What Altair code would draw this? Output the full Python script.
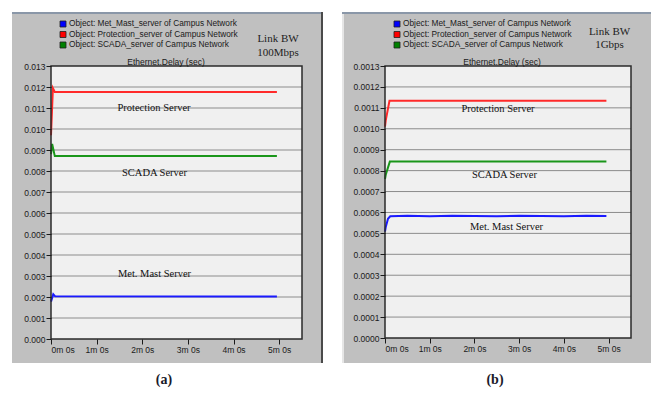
import altair as alt
import pandas as pd

# ---------------- data ----------------
series_names = [
    "Object: Met_Mast_server of Campus Network",
    "Object: Protection_server of Campus Network",
    "Object: SCADA_server of Campus Network",
]
series_keys = ["met", "prot", "scada"]
legend_colors = ["#0000ff", "#ff0000", "#008000"]
line_colors = ["#1a1aff", "#ff2a2a", "#1a961a"]

x_tick_values = [0, 60, 120, 180, 240, 300]
x_tick_labels = ["0m 0s", "1m 0s", "2m 0s", "3m 0s", "4m 0s", "5m 0s"]

# panel (a) Link BW 100Mbps
a_met_t = [0, 3, 5.5, 297]
a_met_v = [0.00178, 0.00213, 0.00203, 0.00202]
a_prot_t = [0, 2.5, 5, 297]
a_prot_v = [0.0097, 0.01194, 0.01176, 0.01176]
a_scada_t = [0, 1.5, 5, 297]
a_scada_v = [0.0088, 0.00929, 0.00871, 0.00871]
a_y_ticks = [0.000, 0.001, 0.002, 0.003, 0.004, 0.005, 0.006, 0.007,
             0.008, 0.009, 0.010, 0.011, 0.012, 0.013]

# panel (b) Link BW 1Gbps
b_met_t = [0, 1, 4, 7, 30, 60, 90, 120, 150, 180, 210, 240, 270, 297]
b_met_v = [0.000508, 0.00053, 0.00057, 0.000582, 0.000584, 0.000582, 0.000584,
           0.000583, 0.000582, 0.000584, 0.000583, 0.000582, 0.000584, 0.000583]
b_prot_t = [0, 1, 6, 297]
b_prot_v = [0.00101, 0.00104, 0.001134, 0.001134]
b_scada_t = [0, 1, 6.5, 297]
b_scada_v = [0.00076, 0.00078, 0.000843, 0.000843]
b_y_ticks = [0.0000, 0.0001, 0.0002, 0.0003, 0.0004, 0.0005, 0.0006, 0.0007,
             0.0008, 0.0009, 0.0010, 0.0011, 0.0012, 0.0013]

a_notes = ["Protection Server", "SCADA Server", "Met. Mast Server"]
b_notes = ["Protection Server", "SCADA Server", "Met. Mast Server"]
a_link = ["Link BW", "100Mbps"]
b_link = ["Link BW", "1Gbps"]
chart_title = "Ethernet.Delay (sec)"
captions = ["(a)", "(b)"]

SANS = "Liberation Sans"
SERIF = "Liberation Serif"
one = pd.DataFrame({"k": [0]})


def series_df(ts, vs):
    rows = []
    for key, t, v in zip(series_keys, ts, vs):
        for ti, vi in zip(t, v):
            rows.append({"series": key, "t": ti, "v": vi})
    return pd.DataFrame(rows)


def txt(text, x, y, font=SANS, size=8, color="#1a1a1a", align="left",
        weight="normal"):
    return alt.Chart(one).mark_text(
        text=text, font=font, fontSize=size, color=color, align=align,
        baseline="middle", fontWeight=weight
    ).encode(x=alt.value(x), y=alt.value(y))


def rect(x0, x1, y0, y1, fill, stroke=None, sw=0):
    kw = dict(fill=fill)
    if stroke:
        kw.update(stroke=stroke, strokeWidth=sw)
    return alt.Chart(one).mark_rect(**kw).encode(
        x=alt.value(x0), x2=alt.value(x1), y=alt.value(y0), y2=alt.value(y1))


def panel(df, W, H, ymax, yticks, yfmt, fx0, fx1, notes, note_pos, link,
          link_pos, title_x, caption, cap_x, right_dark):
    fy0, fy1 = -54, 297
    xscale = alt.Scale(domain=[0, 330], nice=False, zero=True)
    yscale = alt.Scale(domain=[0, ymax], nice=False, zero=True)
    lab_expr = "{" + ",".join(
        f"'{v}':'{l}'" for v, l in zip(x_tick_values, x_tick_labels)) + "}[datum.value]"
    ax_common = dict(domain=False, grid=False, zindex=2, labelFont=SANS,
                     labelFontSize=8.5, labelColor="#1a1a1a", tickColor="#1a1a1a",
                     tickSize=5, labelPadding=1, title=None)
    y_axis = alt.Axis(values=yticks, format=yfmt, **ax_common)

    layers = []
    layers.append(rect(fx0, fx1, fy0, fy1, "#c0c0c0"))
    layers.append(alt.Chart(one).mark_rule(color="#8a97a8", strokeWidth=2).encode(
        x=alt.value(fx0), x2=alt.value(fx1), y=alt.value(fy0 + 1)))
    if right_dark:
        layers.append(alt.Chart(one).mark_rule(color="#4a4a4a", strokeWidth=2).encode(
            x=alt.value(fx1 - 1), y=alt.value(fy0), y2=alt.value(fy1)))
    else:
        layers.append(alt.Chart(one).mark_rule(color="#e6e6e6", strokeWidth=2).encode(
            x=alt.value(fx0 + 1), y=alt.value(fy0 + 2), y2=alt.value(fy1)))
    layers.append(rect(0, W, 0, H, "#f0f0f0"))
    grid_df = pd.DataFrame({"v": yticks[1:-1]})
    layers.append(alt.Chart(grid_df).mark_rule(color="#8c8c8c", strokeWidth=1).encode(
        y=alt.Y("v:Q", scale=yscale, axis=y_axis)))
    lines = alt.Chart(df).mark_line(strokeWidth=2).encode(
        x=alt.X("t:Q", scale=xscale, title=None,
                axis=alt.Axis(values=x_tick_values, labelExpr=lab_expr, **ax_common)),
        y=alt.Y("v:Q", scale=yscale, title=None, axis=y_axis),
        color=alt.Color("series:N", scale=alt.Scale(domain=series_keys, range=line_colors),
                        legend=None),
        detail="series:N",
    )
    layers.append(lines)
    layers.append(alt.Chart(one).mark_rect(filled=False, stroke="#2a2a2a", strokeWidth=1.5).encode(
        x=alt.value(0), x2=alt.value(W), y=alt.value(0), y2=alt.value(H)))
    # legend
    for i, (name, col) in enumerate(zip(series_names, legend_colors)):
        yy = -42 + 10.5 * i
        layers.append(rect(9, 15, yy - 3, yy + 3, col, "#202020", 0.8))
        layers.append(txt(name, 18, yy, size=8.3))
    layers.append(txt(chart_title, title_x, -4.5, size=8.5, align="center"))
    for line, (lx, ly) in zip(link, link_pos):
        layers.append(txt(line, lx, ly, font=SERIF, size=11, align="center", color="#222"))
    for note, (nx, ny) in zip(notes, note_pos):
        layers.append(txt(note, nx, ny, font=SERIF, size=10.5, align="center", color="#111"))
    layers.append(txt(caption, cap_x, 314, font=SERIF, size=14, align="center",
                      color="#1a1a2a", weight="bold"))
    return alt.layer(*layers).properties(width=W, height=H)


dfa = series_df([a_met_t, a_prot_t, a_scada_t], [a_met_v, a_prot_v, a_scada_v])
dfb = series_df([b_met_t, b_prot_t, b_scada_t], [b_met_v, b_prot_v, b_scada_v])

pa = panel(dfa, 251, 273, 0.013, a_y_ticks, ".3f", -39, 272,
           a_notes, [(103, 42), (103.5, 107), (103.5, 208)],
           a_link, [(227, -27), (227, -13)], 115, captions[0], 113, True)
pb = panel(dfb, 246, 272, 0.0013, b_y_ticks, ".4f", -43, 266,
           b_notes, [(113, 43), (119.5, 109), (121.5, 161)],
           b_link, [(224.5, -34), (224.5, -21)], 117, captions[1], 110, False)

chart = alt.hconcat(pa, pb, spacing=15).properties(
    padding={"left": 2, "top": 2, "right": 0, "bottom": 0},
    background="white",
).configure_view(stroke="transparent")

chart.save("out.html", embed_options={"renderer": "svg", "actions": False})
